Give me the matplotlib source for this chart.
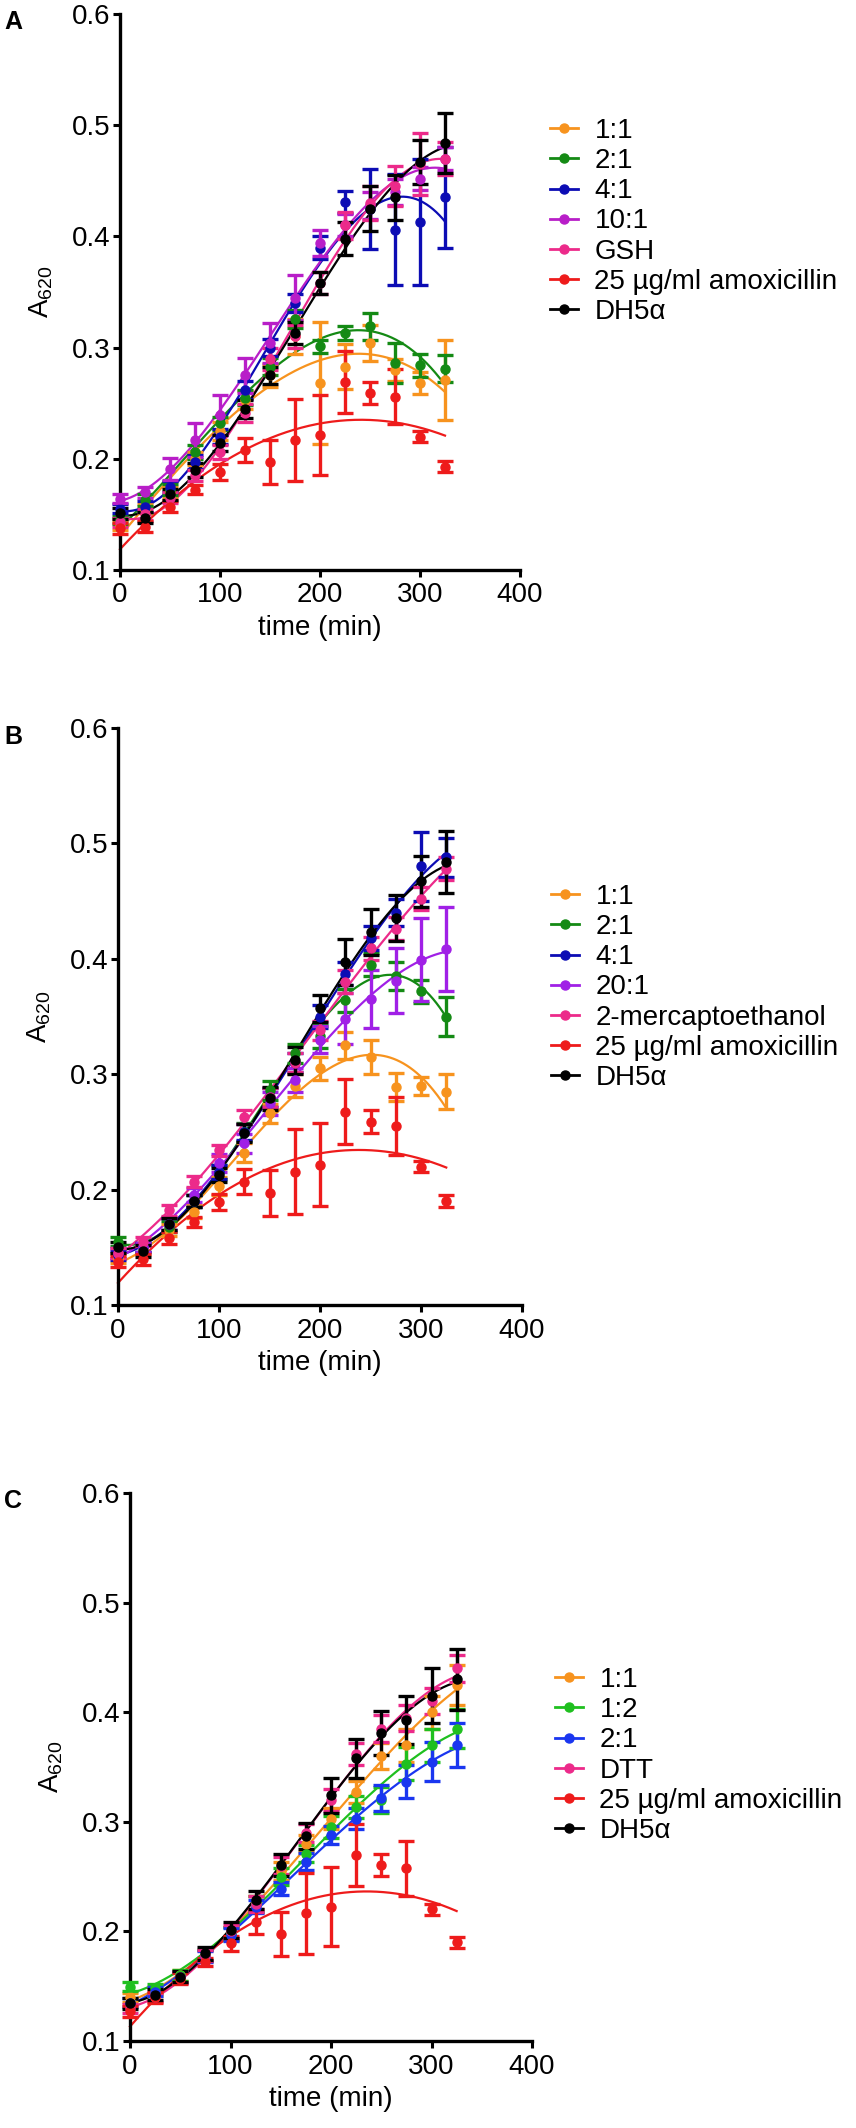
import numpy as np
import matplotlib
matplotlib.use('Agg')
import matplotlib.pyplot as plt
from matplotlib.lines import Line2D

plt.rcParams['font.family'] = ['Liberation Sans', 'DejaVu Sans']
plt.rcParams['mathtext.fontset'] = 'custom'
plt.rcParams['mathtext.rm'] = 'Liberation Sans'
plt.rcParams['mathtext.default'] = 'regular'

# ---------------- data ----------------
time_min = [0, 25, 50, 75, 100, 125, 150, 175, 200, 225, 250, 275, 300, 325]
x_ticks = [0, 100, 200, 300, 400]
y_ticks = [0.1, 0.2, 0.3, 0.4, 0.5, 0.6]

# Panel A
a_labels = ["1:1", "2:1", "4:1", "10:1", "GSH", "25 µg/ml amoxicillin", "DH5α"]
a_11 = [0.140, 0.155, 0.170, 0.200, 0.225, 0.253, 0.275, 0.310, 0.268, 0.283, 0.304, 0.280, 0.268, 0.271]
a_11_sd = [0.004, 0.004, 0.005, 0.006, 0.008, 0.008, 0.010, 0.016, 0.055, 0.020, 0.016, 0.010, 0.010, 0.036]
a_21 = [0.145, 0.163, 0.172, 0.206, 0.232, 0.255, 0.283, 0.326, 0.301, 0.313, 0.319, 0.286, 0.284, 0.281]
a_21_sd = [0.004, 0.005, 0.005, 0.006, 0.006, 0.007, 0.008, 0.008, 0.006, 0.006, 0.012, 0.018, 0.010, 0.012]
a_41 = [0.155, 0.157, 0.175, 0.197, 0.220, 0.262, 0.300, 0.340, 0.390, 0.431, 0.425, 0.406, 0.413, 0.435]
a_41_sd = [0.004, 0.005, 0.005, 0.006, 0.007, 0.008, 0.008, 0.008, 0.010, 0.010, 0.036, 0.050, 0.057, 0.045]
a_101 = [0.164, 0.170, 0.191, 0.217, 0.239, 0.275, 0.304, 0.345, 0.394, 0.410, 0.428, 0.440, 0.452, 0.470]
a_101_sd = [0.004, 0.005, 0.010, 0.015, 0.018, 0.016, 0.018, 0.020, 0.012, 0.010, 0.012, 0.012, 0.010, 0.010]
a_gsh = [0.143, 0.150, 0.165, 0.185, 0.206, 0.241, 0.290, 0.310, 0.358, 0.410, 0.430, 0.445, 0.465, 0.470]
a_gsh_sd = [0.004, 0.005, 0.005, 0.005, 0.006, 0.008, 0.010, 0.010, 0.010, 0.012, 0.015, 0.018, 0.028, 0.015]
a_amox = [0.1375, 0.139, 0.157, 0.172, 0.188, 0.208, 0.197, 0.217, 0.221, 0.269, 0.259, 0.256, 0.220, 0.193]
a_amox_sd = [0.005, 0.005, 0.005, 0.004, 0.007, 0.011, 0.020, 0.037, 0.036, 0.028, 0.010, 0.025, 0.005, 0.005]
a_dh5a = [0.151, 0.147, 0.168, 0.190, 0.214, 0.245, 0.275, 0.313, 0.358, 0.398, 0.425, 0.435, 0.467, 0.484]
a_dh5a_sd = [0.005, 0.005, 0.005, 0.006, 0.007, 0.008, 0.008, 0.010, 0.010, 0.015, 0.020, 0.020, 0.020, 0.027]

# Panel B
b_labels = ["1:1", "2:1", "4:1", "20:1", "2-mercaptoethanol", "25 µg/ml amoxicillin", "DH5α"]
b_11 = [0.140, 0.148, 0.165, 0.181, 0.203, 0.232, 0.266, 0.290, 0.305, 0.325, 0.315, 0.289, 0.290, 0.285]
b_11_sd = [0.004, 0.004, 0.005, 0.006, 0.008, 0.008, 0.008, 0.010, 0.010, 0.012, 0.015, 0.012, 0.008, 0.015]
b_21 = [0.155, 0.150, 0.168, 0.190, 0.215, 0.250, 0.286, 0.318, 0.333, 0.364, 0.395, 0.385, 0.372, 0.350]
b_21_sd = [0.004, 0.004, 0.005, 0.005, 0.006, 0.008, 0.008, 0.008, 0.010, 0.010, 0.010, 0.012, 0.010, 0.017]
b_41 = [0.143, 0.150, 0.170, 0.190, 0.215, 0.250, 0.280, 0.310, 0.350, 0.387, 0.418, 0.440, 0.480, 0.488]
b_41_sd = [0.004, 0.004, 0.005, 0.005, 0.006, 0.007, 0.008, 0.008, 0.010, 0.010, 0.010, 0.012, 0.030, 0.017]
b_201 = [0.145, 0.150, 0.170, 0.195, 0.223, 0.240, 0.275, 0.295, 0.330, 0.348, 0.365, 0.381, 0.399, 0.4085]
b_201_sd = [0.004, 0.004, 0.005, 0.006, 0.008, 0.008, 0.010, 0.010, 0.012, 0.022, 0.025, 0.028, 0.036, 0.036]
b_me = [0.145, 0.155, 0.182, 0.207, 0.234, 0.263, 0.280, 0.310, 0.338, 0.380, 0.409, 0.426, 0.452, 0.478]
b_me_sd = [0.004, 0.004, 0.005, 0.005, 0.005, 0.006, 0.008, 0.008, 0.008, 0.010, 0.010, 0.010, 0.010, 0.010]
b_amox = [0.1376, 0.1396, 0.158, 0.172, 0.1896, 0.2069, 0.197, 0.2156, 0.2214, 0.2676, 0.259, 0.255, 0.220, 0.190]
b_amox_sd = [0.005, 0.005, 0.005, 0.004, 0.007, 0.011, 0.020, 0.037, 0.036, 0.028, 0.010, 0.025, 0.005, 0.005]
b_dh5a = [0.150, 0.147, 0.170, 0.190, 0.213, 0.249, 0.279, 0.312, 0.357, 0.397, 0.4235, 0.435, 0.467, 0.484]
b_dh5a_sd = [0.005, 0.005, 0.005, 0.005, 0.006, 0.008, 0.010, 0.012, 0.012, 0.020, 0.020, 0.020, 0.022, 0.027]

# Panel C
c_labels = ["1:1", "1:2", "2:1", "DTT", "25 µg/ml amoxicillin", "DH5α"]
c_11 = [0.140, 0.145, 0.160, 0.178, 0.198, 0.225, 0.255, 0.280, 0.303, 0.3275, 0.360, 0.370, 0.400, 0.425]
c_11_sd = [0.004, 0.004, 0.005, 0.005, 0.006, 0.007, 0.008, 0.008, 0.010, 0.010, 0.012, 0.015, 0.015, 0.018]
c_12 = [0.1495, 0.148, 0.160, 0.178, 0.198, 0.225, 0.250, 0.271, 0.2955, 0.3138, 0.320, 0.353, 0.370, 0.385]
c_12_sd = [0.004, 0.004, 0.005, 0.005, 0.006, 0.007, 0.008, 0.008, 0.010, 0.010, 0.012, 0.015, 0.015, 0.018]
c_21 = [0.135, 0.145, 0.158, 0.177, 0.197, 0.2225, 0.239, 0.2636, 0.288, 0.303, 0.3214, 0.3366, 0.355, 0.370]
c_21_sd = [0.004, 0.004, 0.005, 0.005, 0.006, 0.006, 0.006, 0.008, 0.008, 0.010, 0.012, 0.015, 0.018, 0.020]
c_dtt = [0.130, 0.140, 0.158, 0.178, 0.200, 0.225, 0.260, 0.290, 0.320, 0.362, 0.385, 0.395, 0.410, 0.440]
c_dtt_sd = [0.004, 0.004, 0.005, 0.005, 0.006, 0.007, 0.008, 0.008, 0.010, 0.010, 0.012, 0.012, 0.012, 0.012]
c_amox = [0.127, 0.140, 0.157, 0.172, 0.189, 0.209, 0.198, 0.2165, 0.2225, 0.2697, 0.2606, 0.2575, 0.220, 0.190]
c_amox_sd = [0.005, 0.005, 0.005, 0.004, 0.007, 0.011, 0.020, 0.037, 0.036, 0.028, 0.010, 0.025, 0.005, 0.005]
c_dh5a = [0.1343, 0.142, 0.1587, 0.180, 0.2012, 0.2286, 0.2606, 0.287, 0.3244, 0.3579, 0.3807, 0.393, 0.415, 0.430]
c_dh5a_sd = [0.005, 0.005, 0.005, 0.006, 0.007, 0.008, 0.010, 0.012, 0.016, 0.018, 0.020, 0.022, 0.025, 0.028]

# ---------------- styles ----------------
ORANGE = '#F7931E'
GREEN_D = '#148A14'
BLUE_D = '#0C0CB4'
PURPLE_A = '#B81EC8'
PURPLE_B = '#A020E6'
PINK = '#EC2A8A'
RED = '#EE1B1B'
BLACK = '#000000'
GREEN_C = '#1FC01F'
BLUE_C = '#1A36F0'

panel_a = [(a_11, a_11_sd, ORANGE, 3), (a_21, a_21_sd, GREEN_D, 3), (a_41, a_41_sd, BLUE_D, 3),
           (a_101, a_101_sd, PURPLE_A, 3), (a_gsh, a_gsh_sd, PINK, 3),
           (a_amox, a_amox_sd, RED, 2), (a_dh5a, a_dh5a_sd, BLACK, 3)]
panel_b = [(b_11, b_11_sd, ORANGE, 3), (b_21, b_21_sd, GREEN_D, 3), (b_41, b_41_sd, BLUE_D, 3),
           (b_201, b_201_sd, PURPLE_B, 3), (b_me, b_me_sd, PINK, 3),
           (b_amox, b_amox_sd, RED, 2), (b_dh5a, b_dh5a_sd, BLACK, 3)]
panel_c = [(c_11, c_11_sd, ORANGE, 3), (c_12, c_12_sd, GREEN_C, 3), (c_21, c_21_sd, BLUE_C, 3),
           (c_dtt, c_dtt_sd, PINK, 3), (c_amox, c_amox_sd, RED, 2), (c_dh5a, c_dh5a_sd, BLACK, 3)]

W, H = 856, 2128
fig = plt.figure(figsize=(W / 100, H / 100), dpi=100)


def px_rect(left, top, width, bottom):
    return [left / W, 1 - bottom / H, width / W, (bottom - top) / H]


def draw_panel(rect, series, labels, leg_xy, letter, letter_xy):
    ax = fig.add_axes(rect)
    t = np.array(time_min, dtype=float)
    tt = np.linspace(t[0], t[-1], 300)
    for vals, sd, col, deg in series:
        v = np.array(vals)
        coef = np.polyfit(t, v, deg)
        ax.plot(tt, np.polyval(coef, tt), color=col, lw=1.6, zorder=2, clip_on=False)
        ax.errorbar(t, v, yerr=np.array(sd), fmt='o', color=col, ms=6.5,
                    elinewidth=2.4, capsize=5.5, capthick=2.4, zorder=3, clip_on=False)
    ax.set_xlim(0, 400)
    ax.set_ylim(0.1, 0.6)
    ax.set_xticks(x_ticks)
    ax.set_yticks(y_ticks)
    ax.set_yticklabels([f"{v:.1f}" for v in y_ticks])
    for s in ['top', 'right']:
        ax.spines[s].set_visible(False)
    for s in ['left', 'bottom']:
        ax.spines[s].set_linewidth(2.4)
    ax.tick_params(axis='both', direction='out', length=5, width=2.2, labelsize=20)
    ax.tick_params(axis='y', pad=2)
    ax.tick_params(axis='x', pad=4)
    ax.set_xlabel('time (min)', fontsize=20, labelpad=5)
    ax.set_ylabel('A$_{620}$', fontsize=20, labelpad=12)
    handles = [Line2D([], [], color=c, marker='o', ms=6.5, lw=2) for _, _, c, _ in series]
    ax.legend(handles, labels, loc='upper left', bbox_to_anchor=(leg_xy[0] / W, 1 - leg_xy[1] / H),
              bbox_transform=fig.transFigure, frameon=False, fontsize=20, handlelength=1.0,
              handletextpad=0.6, labelspacing=0.15, borderpad=0, borderaxespad=0)
    fig.text(letter_xy[0] / W, 1 - letter_xy[1] / H, letter, fontsize=18, fontweight='bold', va='baseline')
    return ax


draw_panel(px_rect(120, 14, 400, 570), panel_a, a_labels, (550, 118), 'A', (4, 29))
draw_panel(px_rect(118, 728, 404, 1305), panel_b, b_labels, (551, 884), 'B', (4, 744))
draw_panel(px_rect(130, 1493, 402, 2041), panel_c, c_labels, (555, 1667), 'C', (4, 1508))

fig.savefig('out.png', dpi=100)
